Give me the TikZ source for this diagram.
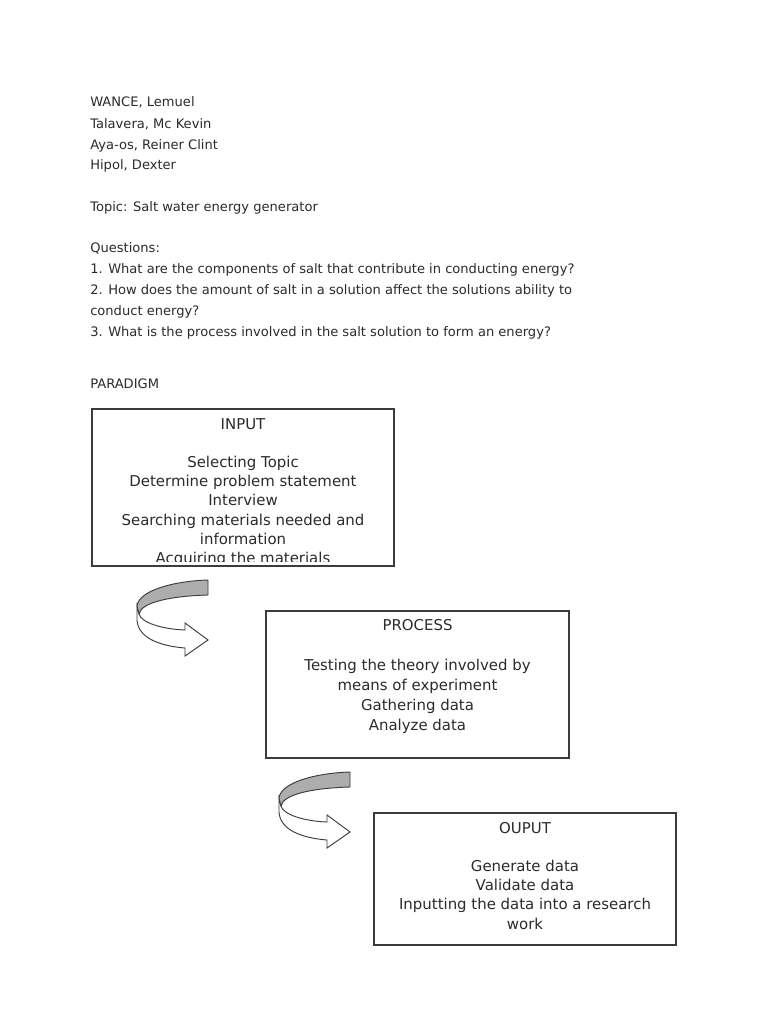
\documentclass[tikz,border=0pt]{standalone}
\usepackage{fontspec}
\setmainfont{DejaVu Sans}
\usetikzlibrary{positioning}
\definecolor{ink}{HTML}{2B2B2B}
\definecolor{edge}{HTML}{3C3C3C}
\definecolor{ribbon}{HTML}{ADADAD}

\tikzset{
  hdtext/.style={anchor=base west,inner sep=0pt,text=ink,font=\fontsize{9.8}{14}\selectfont},
  stagebox/.style={draw=edge,line width=0.9pt,inner sep=0pt},
  stagetext/.style={anchor=base,inner sep=0pt,align=center,text=ink,font=\fontsize{11.2}{14.4}\selectfont},
  ribbonback/.style={draw=edge,fill=ribbon,line width=0.7pt,line join=round},
  ribbonfront/.style={draw=edge,fill=white,line width=0.7pt,line join=miter},
  turnarrow/.pic={
    \draw[ribbonfront] (0,26) -- (0,40) .. controls (1,58) and (23,66) .. (48,68) -- (48,76) -- (71,60) -- (48,43) -- (48,50) .. controls (23,49) and (4,42) .. (2,34) -- cycle;
    \draw[ribbonback] (0,26) .. controls (2,10) and (38,1) .. (71,0) -- (71,15) .. controls (35,16) and (4,22) .. (2,34) -- cycle;
  }
}

\begin{document}
\begin{tikzpicture}[x=0.75pt,y=-0.75pt]
\useasboundingbox[fill=white] (0,0) rectangle (768,1024);

% heading
\node[hdtext] (name1) at (90,107) {WANCE, Lemuel};
\node[hdtext] (name2) at (90,128) {Talavera, Mc Kevin};
\node[hdtext] (name3) at (90,149) {Aya-os, Reiner Clint};
\node[hdtext] (name4) at (90,169.5) {Hipol, Dexter};
\node[hdtext] (topic) at (90,211) {Topic: Salt water energy generator};
\node[hdtext] (quest) at (90,252.5) {Questions:};
\node[hdtext] (q1) at (90,273.5) {1. What are the components of salt that contribute in conducting energy?};
\node[hdtext] (q2) at (90,294.5) {2. How does the amount of salt in a solution affect the solutions ability to};
\node[hdtext] (q2b) at (90,315.5) {conduct energy?};
\node[hdtext] (q3) at (90,336.5) {3. What is the process involved in the salt solution to form an energy?};
\node[hdtext] (paradigm) at (90,388) {PARADIGM};

% stages (text nodes sit on their last line)
\node[stagebox,minimum width=226.5pt,minimum height=117.75pt] (input) at (243,487.5) {};
\node[stagebox,minimum width=227.25pt,minimum height=110.25pt] (process) at (417.5,684.5) {};
\node[stagebox,minimum width=226.5pt,minimum height=99pt] (output) at (525,879) {};

\begin{scope}
\clip (93,410) rectangle (393,561);
\node[stagetext] (inputtxt) at (243,563.5) {INPUT\\[14.4pt]Selecting Topic\\Determine problem statement\\Interview\\Searching materials needed and\\information\\Acquiring the materials};
\end{scope}
\node[stagetext,font=\fontsize{11.2}{15}\selectfont] (processtxt) at (417.5,730) {PROCESS\\[15pt]Testing the theory involved by\\means of experiment\\Gathering data\\Analyze data};
\node[stagetext] (outputtxt) at (525,929) {OUPUT\\[14.4pt]Generate data\\Validate data\\Inputting the data into a research\\work};

% turning arrows
\pic (turn1) at (137,580) {turnarrow};
\pic (turn2) at (279,772) {turnarrow};
\end{tikzpicture}
\end{document}
